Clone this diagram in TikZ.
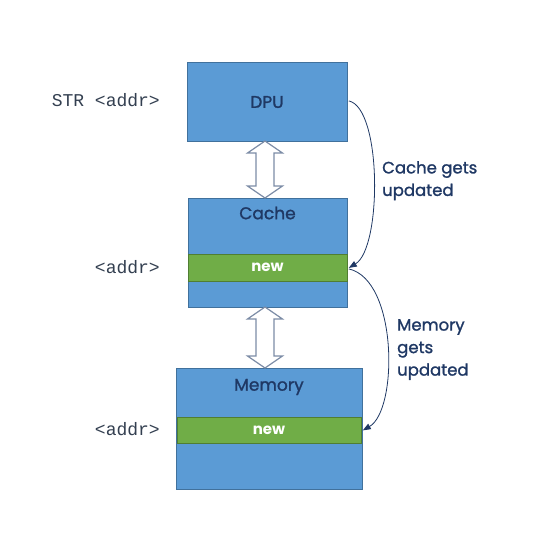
\documentclass[tikz,border=0pt]{standalone}
\usepackage{fontspec}
\setmainfont{Poppins}
\newfontfamily\futura{Poppins}[FakeBold=1.3]
\setmonofont{Liberation Mono}
\usetikzlibrary{arrows.meta,calc}
\definecolor{boxblue}{HTML}{5B9BD5}
\definecolor{boxedge}{HTML}{41719C}
\definecolor{bandgreen}{HTML}{70AD47}
\definecolor{bandedge}{HTML}{507E32}
\definecolor{navy}{HTML}{1F3864}
\definecolor{slate}{HTML}{333F50}
\definecolor{arrowgray}{HTML}{7C8CA6}
\tikzset{
  unitbox/.style={draw=boxedge, fill=boxblue, line width=0.8pt, inner sep=0pt, anchor=north west},
  band/.style={draw=bandedge, fill=bandgreen, line width=0.8pt, inner sep=0pt, anchor=north west},
  title/.style={text=navy, font=\futura\fontsize{17}{20}\selectfont, inner sep=0pt},
  newtext/.style={text=white, font=\fontsize{15}{18}\selectfont\bfseries, inner sep=0pt},
  addr/.style={text=slate, font=\ttfamily\fontsize{18}{20}\selectfont, anchor=east, inner sep=0pt},
  note/.style={text=navy, font=\futura\fontsize{16.5}{22.5}\selectfont, align=left, anchor=north west, inner sep=0pt},
  curved/.style={draw=navy, line width=0.8pt, -{Triangle[length=8pt,width=6pt]}},
  fat/.style={draw=arrowgray, fill=white, line width=1.2pt, line join=miter}
}
\begin{document}
\begin{tikzpicture}[x=1pt,y=-1pt]
\useasboundingbox (0,0) rectangle (542,539);
% boxes
\node[unitbox, minimum width=160pt, minimum height=79pt] (dpu) at (187,62) {};
\node[title] (dpulabel) at (267,102) {DPU};
\node[unitbox, minimum width=159pt, minimum height=109pt] (cache) at (188,198) {};
\node[title] (cachelabel) at (267.5,213) {Cache};
\node[band, minimum width=159pt, minimum height=27pt] (cband) at (188,254) {};
\node[newtext] (cnew) at (267.5,267) {new};
\node[unitbox, minimum width=186pt, minimum height=121pt] (mem) at (176,368) {};
\node[title] (memlabel) at (269,387) {Memory};
\node[band, minimum width=184pt, minimum height=26pt] (mband) at (177,417) {};
\node[newtext] (mnew) at (269,430) {new};
% addresses
\node[addr] (a1) at (160,100) {STR <addr>};
\node[addr] (a2) at (160,267) {<addr>};
\node[addr] (a3) at (160,429) {<addr>};
% double arrows
\draw[fat] (265,141) -- ++(17.5,12) -- ++(-8.5,0) -- (274,186) -- ++(8.5,0) -- (265,198) -- ++(-17.5,-12) -- ++(8.5,0) -- (256,153) -- ++(-8.5,0) -- cycle;
\draw[fat] (265,307) -- ++(17.5,12) -- ++(-8.5,0) -- (274,356) -- ++(8.5,0) -- (265,368) -- ++(-17.5,-12) -- ++(8.5,0) -- (256,319) -- ++(-8.5,0) -- cycle;
% curved arrows
\coordinate (s1) at (dpu.east);
\coordinate (e1) at (cband.east);
\draw[curved] ($(s1)+(1,-1)$) .. controls (382,108) and (382,248) .. ($(e1)+(1,0)$);
\coordinate (e2) at (mband.east);
\draw[curved] ($(e1)+(1,1)$) .. controls (398,280) and (398,410) .. ($(e2)+(1,0)$);
% notes
\node[note] (n1) at (382,161) {Cache gets\\updated};
\node[note] (n2) at (397,319) {Memory\\gets\\updated};
\end{tikzpicture}
\end{document}
